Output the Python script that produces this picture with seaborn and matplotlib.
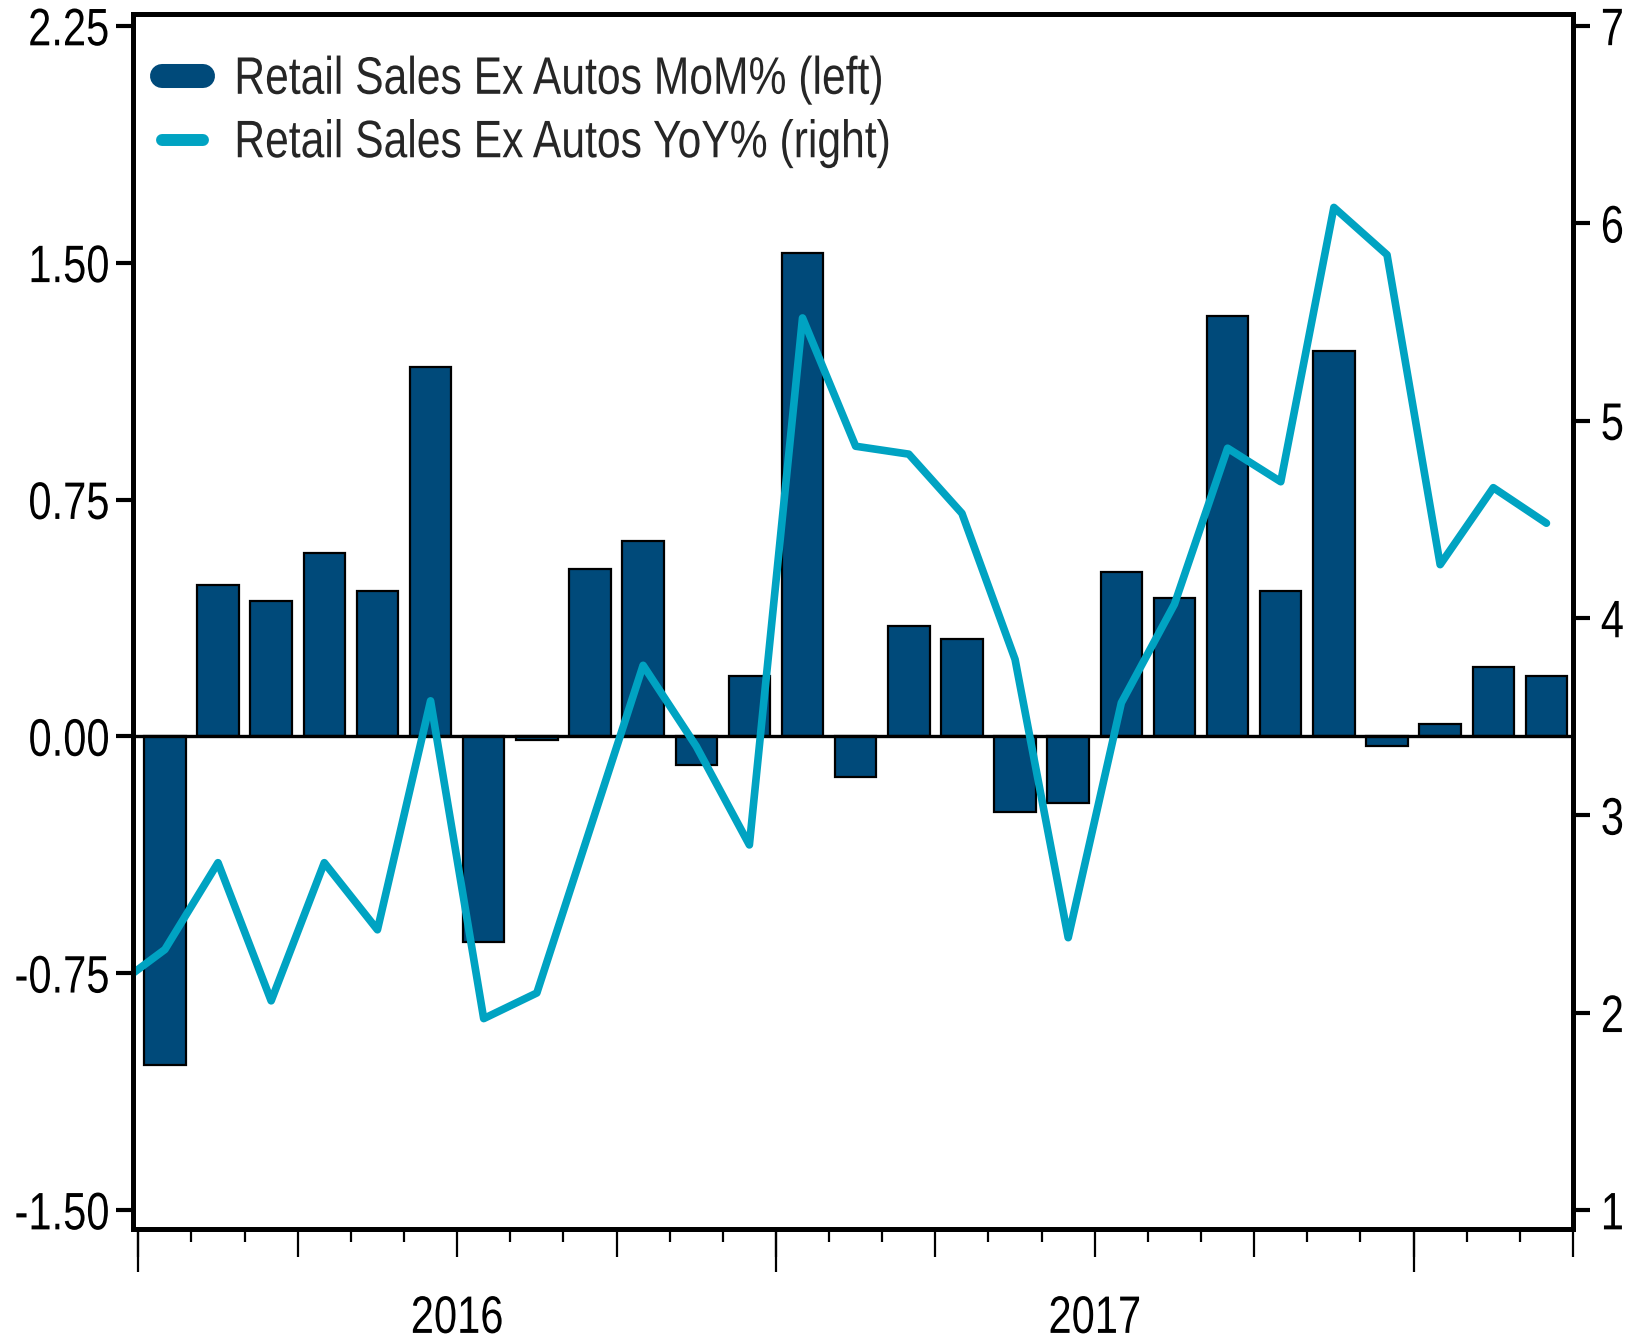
import matplotlib
matplotlib.use("Agg")
import matplotlib.pyplot as plt
import matplotlib.transforms as mtransforms
from matplotlib.lines import Line2D
from matplotlib.patheffects import AbstractPathEffect
import seaborn as sns
import pandas as pd
import numpy as np

# ---- data ----
months = ["2016-01", "2016-02", "2016-03", "2016-04", "2016-05", "2016-06",
          "2016-07", "2016-08", "2016-09", "2016-10", "2016-11", "2016-12",
          "2017-01", "2017-02", "2017-03", "2017-04", "2017-05", "2017-06",
          "2017-07", "2017-08", "2017-09", "2017-10", "2017-11", "2017-12",
          "2018-01", "2018-02", "2018-03"]
mom = [-1.04, 0.48, 0.43, 0.58, 0.46, 1.17, -0.65, -0.01, 0.53, 0.62, -0.09, 0.19,
       1.53, -0.13, 0.35, 0.31, -0.24, -0.21, 0.52, 0.44, 1.33, 0.46, 1.22, -0.03,
       0.04, 0.22, 0.19]
# YoY includes Dec-2015 (clipped at the left edge)
yoy_months = ["2015-12"] + months
yoy = [2.12, 2.32, 2.76, 2.06, 2.76, 2.42, 3.58, 1.97, 2.10, 2.93, 3.76, 3.35, 2.85,
       5.52, 4.87, 4.83, 4.53, 3.79, 2.38, 3.57, 4.07, 4.86, 4.69, 6.08, 5.84,
       4.27, 4.66, 4.48]
year_labels = ["2016", "2017"]
left_ticks = [-1.50, -0.75, 0.00, 0.75, 1.50, 2.25]
right_ticks = [1, 2, 3, 4, 5, 6, 7]
label_mom = "Retail Sales Ex Autos MoM% (left)"
label_yoy = "Retail Sales Ex Autos YoY% (right)"

DARK = "#004A7A"
CYAN = "#00A3C2"


class Tall(AbstractPathEffect):
    """Stretch text vertically (condensed typeface look)."""
    def __init__(self, sy=1.266, anchor="center"):
        super().__init__()
        self.sy = sy
        self.anchor = anchor

    def draw_path(self, renderer, gc, tpath, affine, rgbFace=None):
        ext = tpath.get_extents()
        if self.anchor == "bottom":
            y0 = ext.y0
        else:
            y0 = 0.5 * (ext.y0 + ext.y1)
        t = mtransforms.Affine2D().translate(0, -y0).scale(1.0, self.sy).translate(0, y0) + affine
        renderer.draw_path(gc, tpath, t, rgbFace)


sns.set_theme(style="white")
plt.rcParams["font.family"] = ["Liberation Sans", "DejaVu Sans"]
FS = 30
SY = 1.266
FS_LEG = 30.7
SY_LEG = 38.0 / 30.7

fig = plt.figure(figsize=(16.27, 13.42), dpi=100)
ax = fig.add_axes([133/1627, 1 - 1229/1342, (1573-133)/1627, (1229-14)/1342])

xpos = np.arange(len(months))
df_bar = pd.DataFrame({"x": xpos, "mom": mom})
sns.barplot(data=df_bar, x="x", y="mom", native_scale=True, color=DARK,
            saturation=1, width=0.78, edgecolor="black", linewidth=1.6, ax=ax)
ax.axhline(0, color="black", lw=2.4, zorder=3)

ax2 = ax.twinx()
df_line = pd.DataFrame({"x": np.arange(-1, len(months)), "yoy": yoy})
sns.lineplot(data=df_line, x="x", y="yoy", color=CYAN, lw=5.5, ax=ax2)

ax.set_xlim(-0.6, len(months) - 0.5)
ax.set_ylim(-1.560, 2.288)
ax2.set_ylim(0.904, 7.06)

ax.set_xlabel("")
ax.set_ylabel("")
ax2.set_xlabel("")
ax2.set_ylabel("")

# y ticks
ax.set_yticks(left_ticks)
ax.set_yticklabels([f"{v:.2f}" for v in left_ticks], fontsize=FS)
ax2.set_yticks(right_ticks)
ax2.set_yticklabels([f"{v:d}" for v in right_ticks], fontsize=FS)
ax.tick_params(axis="y", left=True, direction="out", length=12, width=3, pad=5, colors="black")
ax2.tick_params(axis="y", right=True, direction="out", length=12, width=3, pad=8, colors="black")

# x ticks: month (short), quarter (medium), year (long)
bounds = np.arange(-0.5, len(months) + 0.5, 1.0)
ax.set_xticks(bounds[::3])
ax.set_xticks(bounds, minor=True)
ax.set_xticklabels([])
ax.tick_params(axis="x", which="minor", bottom=True, direction="out", length=9.5, width=1.6, colors="black")
ax.tick_params(axis="x", which="major", bottom=True, direction="out", length=20, width=1.6, colors="black")
sec = ax.secondary_xaxis("bottom")
sec.set_xticks(bounds[::12])
sec.set_xticklabels([])
sec.tick_params(axis="x", direction="out", length=31, width=1.6, colors="black")
sec.spines["bottom"].set_visible(False)

trans = mtransforms.blended_transform_factory(ax.transData, ax.transAxes)
year_texts = []
for i, lab in enumerate(year_labels):
    t = ax.text(bounds[6 + 12 * i], (1229 - 1333) / 1215, lab, transform=trans, ha="center",
                va="baseline", fontsize=FS, color="black")
    year_texts.append(t)

for a in (ax, ax2):
    for s in a.spines.values():
        s.set_visible(True)
        s.set_color("black")
        s.set_linewidth(3.5)
ax.grid(False)
ax2.grid(False)

handles = [Line2D([], [], color=DARK, lw=17.3, solid_capstyle="round"),
           Line2D([], [], color=CYAN, lw=8.6, solid_capstyle="round")]
leg = ax2.legend(handles, [label_mom, label_yoy], loc="upper left",
                 bbox_to_anchor=(0.020, 0.962), frameon=False, fontsize=FS_LEG,
                 handlelength=0.97, handletextpad=0.73, labelspacing=0.55,
                 borderaxespad=0.0, borderpad=0.0)

# tall/condensed look for all text
for lab in ax.get_yticklabels() + ax2.get_yticklabels():
    lab.set_path_effects([Tall(SY, "center")])
for t in year_texts:
    t.set_path_effects([Tall(SY, "bottom")])
for t in leg.get_texts():
    t.set_path_effects([Tall(SY_LEG, "center")])

fig.savefig("out.png", dpi=100)
